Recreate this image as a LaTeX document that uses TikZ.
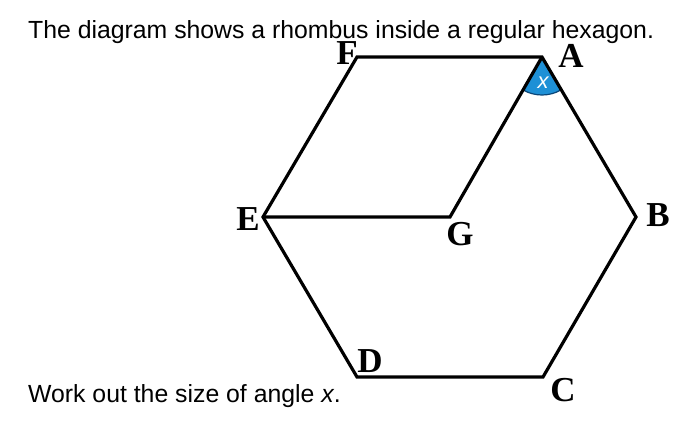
\documentclass[tikz,border=0pt]{standalone}
\usepackage{fontspec}
\setmainfont{Liberation Sans}
\newfontfamily\lblfont{Liberation Serif}
\definecolor{angblue}{RGB}{30,144,214}
\definecolor{angedge}{RGB}{10,70,120}
\begin{document}
\begin{tikzpicture}[x=1pt,y=-1pt,
  vlabel/.style={inner sep=0pt,font=\lblfont\bfseries\fontsize{35}{40}\selectfont},
  edge/.style={line width=3.2pt,line join=miter,black},
  bodytext/.style={inner sep=0pt,anchor=base west,font=\fontsize{24.8}{30}\selectfont}]
\useasboundingbox (0,0) rectangle (694,426);
\fill[white] (0,0) rectangle (694,426);
% vertices
\coordinate (A) at (542,57);
\coordinate (B) at (636,217);
\coordinate (C) at (543,377);
\coordinate (D) at (357,377);
\coordinate (E) at (263,217);
\coordinate (F) at (357,57);
\coordinate (G) at (450,217);
% angle sector (y axis points down, so angles are mirrored)
\fill[angblue] (A) -- ++(120:38) arc[start angle=120,end angle=60,radius=38] -- cycle;
\draw[angedge,line width=1.2pt] (A) ++(120:38) arc[start angle=120,end angle=60,radius=38];
\node[inner sep=0pt,text=white,font=\itshape\fontsize{22}{26}\selectfont] (xl) at (543,83) {x};
% hexagon and rhombus
\draw[edge] (A) -- (B) -- (C) -- (D) -- (E) -- (F) -- cycle;
\draw[edge] (E) -- (G) -- (A);
% labels
\node[vlabel] (lA) at (571,56) {A};
\node[vlabel] (lB) at (658,215) {B};
\node[vlabel] (lC) at (563,390) {C};
\node[vlabel] (lD) at (370,361) {D};
\node[vlabel] (lE) at (248,219) {E};
\node[vlabel] (lF) at (347,53) {F};
\node[vlabel] (lG) at (460,234) {G};
% texts
\node[bodytext] (t1) at (28,38) {The diagram shows a rhombus inside a regular hexagon.};
\node[bodytext] (t2) at (28,402) {Work out the size of angle \textit{x}.};
\end{tikzpicture}
\end{document}
